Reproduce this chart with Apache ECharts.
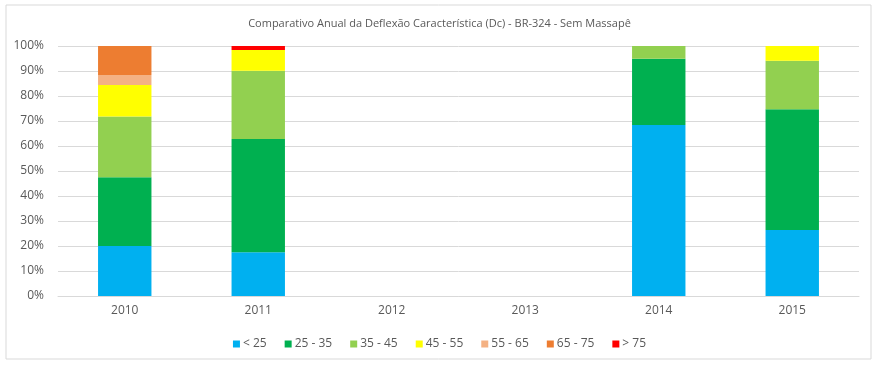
<!DOCTYPE html>
<html><head><meta charset="utf-8">
<script src="https://cdn.jsdelivr.net/npm/echarts@6/dist/echarts.min.js"></script>
<style>html,body{margin:0;padding:0;background:#fff}#c{width:879px;height:371px}</style>
</head><body><div id="c"></div>
<script>
const categories = ['2010','2011','2012','2013','2014','2015'];
const seriesNames = ['< 25','25 - 35','35 - 45','45 - 55','55 - 65','65 - 75','> 75'];
const s_lt25   = [20.0, 17.5, 0, 0, 68.4, 26.4];
const s_25_35  = [27.5, 45.3, 0, 0, 26.5, 48.3];
const s_35_45  = [24.3, 27.3, 0, 0, 5.1, 19.4];
const s_45_55  = [12.6, 8.3, 0, 0, 0, 5.9];
const s_55_65  = [4.0, 0, 0, 0, 0, 0];
const s_65_75  = [11.6, 0, 0, 0, 0, 0];
const s_gt75   = [0, 1.6, 0, 0, 0, 0];
const colors = ['#00B0F0','#00B050','#92D050','#FFFF00','#F4B183','#ED7D31','#FF0000'];
const allData = [s_lt25, s_25_35, s_35_45, s_45_55, s_55_65, s_65_75, s_gt75];

const chart = echarts.init(document.getElementById('c'), null, {renderer:'canvas'});
const font = 'Open Sans';
chart.setOption({
  animation:false,
  textStyle:{fontFamily:font},
  title:{text:'Comparativo Anual da Deflexão Característica (Dc) - BR-324 - Sem Massapê',
    left:'center', top:13, textStyle:{fontSize:11, fontWeight:'normal', color:'#595959', fontFamily:font}},
  legend:{data:seriesNames, bottom:16, left:'center', itemWidth:7, itemHeight:7, itemGap:18,
    icon:'rect', textStyle:{fontSize:12, color:'#595959', fontFamily:font, padding:[0,0,0,-2]}},
  grid:{left:58, right:20, top:46, bottom:75, containLabel:false},
  xAxis:{type:'category', data:categories,
    axisLine:{lineStyle:{color:'#D9D9D9'}}, axisTick:{show:false},
    axisLabel:{color:'#595959', fontSize:12, margin:9, fontFamily:font}},
  yAxis:{type:'value', min:0, max:100, interval:10,
    axisLine:{show:false}, axisTick:{show:false},
    splitLine:{lineStyle:{color:'#D9D9D9'}},
    axisLabel:{formatter:'{value}%', color:'#595959', fontSize:12, margin:14, fontFamily:font}},
  graphic:[{type:'rect', shape:{x:6, y:5, width:865, height:354},
    style:{fill:'none', stroke:'#D9D9D9', lineWidth:1}, silent:true}],
  series: seriesNames.map((n,i)=>({name:n, type:'bar', stack:'t', barWidth:'40%',
    itemStyle:{color:colors[i]}, data:allData[i]}))
});
</script></body></html>
